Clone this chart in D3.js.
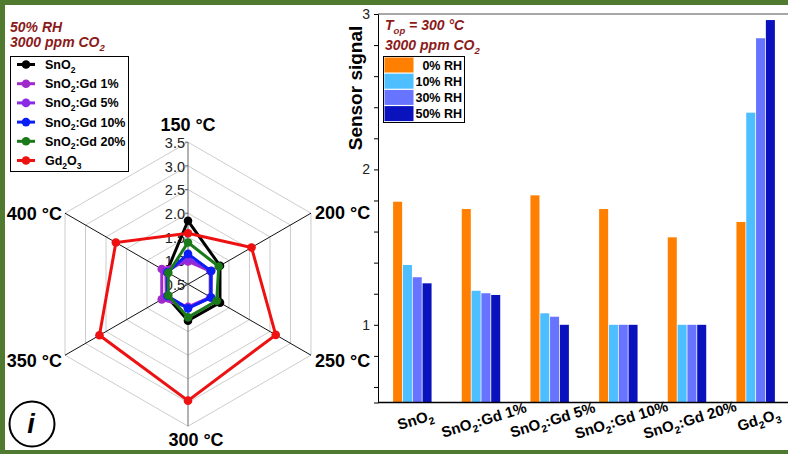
<!DOCTYPE html>
<html>
<head>
<meta charset="utf-8">
<script src="https://cdn.jsdelivr.net/npm/d3@7"></script>
<style>
  html, body { margin: 0; padding: 0; background: #fff; }
  svg { display: block; }
  text { font-family: "Liberation Sans", Arial, Helvetica, sans-serif; }
</style>
</head>
<body>
<svg id="chart" width="788" height="454"></svg>
<script>
// ---------- radar data: sensor signal at 50% RH, 3000 ppm CO2 ----------
const temperatures = ["150 °C", "200 °C", "250 °C", "300 °C", "350 °C", "400 °C"];
const radarNames = ["SnO{2}", "SnO{2}:Gd 1%", "SnO{2}:Gd 5%", "SnO{2}:Gd 10%", "SnO{2}:Gd 20%", "Gd{2}O{3}"];
const radarColors = ["#000000", "#A02ACB", "#8A2BE6", "#0A1EF5", "#1A7A1A", "#EE1111"];
const radarSnO2  = [1.84, 1.28, 1.28, 1.27, 1.02, 1.02];
const radarGd1   = [0.98, 1.05, 1.05, 0.98, 1.14, 1.14];
const radarGd5   = [1.04, 1.07, 1.06, 1.00, 1.03, 1.04];
const radarGd10  = [1.14, 1.06, 1.06, 1.01, 1.00, 1.00];
const radarGd20  = [1.38, 1.25, 1.20, 1.20, 0.98, 0.98];
const radarGd2O3 = [1.575, 2.05, 2.64, 2.96, 2.66, 2.26];
const radarTicks = [0.5, 1.0, 1.5, 2.0, 2.5, 3.0, 3.5];

// ---------- bar data: sensor signal at 300 °C for several humidity levels ----------
const barCategories = ["SnO{2}", "SnO{2}:Gd 1%", "SnO{2}:Gd 5%", "SnO{2}:Gd 10%", "SnO{2}:Gd 20%", "Gd{2}O{3}"];
const humidityLevels = ["0% RH", "10% RH", "30% RH", "50% RH"];
const humidityColors = ["#FF8000", "#4DBEFF", "#6674FF", "#0A12BE"];
const rh0  = [1.792, 1.745, 1.833, 1.745, 1.563, 1.662];
const rh10 = [1.385, 1.219, 1.074, 1.0, 1.0, 2.365];
const rh30 = [1.306, 1.203, 1.052, 1.0, 1.0, 2.844];
const rh50 = [1.267, 1.192, 1.0, 1.0, 1.0, 2.961];
const barMajorTicks = [1, 2, 3];
const barMinorTicks = [0.6, 0.8, 1.2, 1.4, 1.6, 1.8, 2.2, 2.4, 2.6, 2.8];

const svg = d3.select("#chart");
const titleColor = "#8B1A1A";

// text with {subscript} parts rendered as lowered, smaller tspans
function richText(sel, str, fs) {
  const parts = str.split(/(\{[^}]*\})/);
  const shift = fs * 0.28;
  let lowered = false;
  parts.forEach(p => {
    if (!p) return;
    if (p.startsWith("{")) {
      sel.append("tspan").attr("font-size", fs * 0.68)
        .attr("dy", lowered ? 0 : shift).text(p.slice(1, -1));
      lowered = true;
    } else {
      const t = sel.append("tspan").text(p);
      if (lowered) { t.attr("dy", -shift); lowered = false; }
    }
  });
  return sel;
}

// ---------- frame ----------
svg.append("rect").attr("width", 788).attr("height", 454).attr("fill", "#4F7A30");
svg.append("rect").attr("x", 5).attr("y", 5).attr("width", 783).attr("height", 445).attr("fill", "#fff");

// ---------- radar chart ----------
const cx = 188, cy = 284.2, R = 142;
const rScale = d3.scaleLinear().domain([0.5, 3.5]).range([0, R]);
const ang = i => i * Math.PI / 3;
const pt = (i, r) => [cx + r * Math.sin(ang(i)), cy - r * Math.cos(ang(i))];

const radar = svg.append("g");
// rings
radarTicks.slice(1).forEach(t => {
  const pts = temperatures.map((_, i) => pt(i, rScale(t)));
  radar.append("polygon").attr("points", pts.map(p => p.join(",")).join(" "))
    .attr("fill", "none").attr("stroke", "#cdcdcd").attr("stroke-width", 1);
});
// spokes
temperatures.forEach((_, i) => {
  const [x, y] = pt(i, R);
  radar.append("line").attr("x1", cx).attr("y1", cy).attr("x2", x).attr("y2", y)
    .attr("stroke", (i === 0 || i === 3) ? "#666" : "#111").attr("stroke-width", 1);
});
// radial tick labels along the top spoke
radarTicks.forEach(t => {
  const y = cy - rScale(t);
  radar.append("line").attr("x1", cx - 3).attr("x2", cx).attr("y1", y).attr("y2", y)
    .attr("stroke", "#666").attr("stroke-width", 1);
  radar.append("text").attr("x", cx - 3).attr("y", y + 2)
    .attr("text-anchor", "end").attr("dominant-baseline", "middle")
    .attr("font-size", 14.5).attr("fill", "#222").text(t.toFixed(1));
});
// axis labels at the spoke ends
const axisLabelPlacement = [
  { dx: 0, dy: -18, anchor: "middle" },
  { dx: 4, dy: -1, anchor: "start" },
  { dx: 4, dy: 5, anchor: "start" },
  { dx: 8, dy: 13, anchor: "middle" },
  { dx: -3, dy: 5, anchor: "end" },
  { dx: -3, dy: 0, anchor: "end" }
];
temperatures.forEach((t, i) => {
  const [x, y] = pt(i, R);
  const pl = axisLabelPlacement[i];
  radar.append("text").attr("x", x + pl.dx).attr("y", y + pl.dy + 6.5)
    .attr("text-anchor", pl.anchor).attr("font-size", 18).attr("font-weight", "bold")
    .attr("fill", "#000").text(t);
});
// series polygons and markers
const radarValues = [radarSnO2, radarGd1, radarGd5, radarGd10, radarGd20, radarGd2O3];
const radialLine = d3.lineRadial().angle((d, i) => ang(i)).radius(d => rScale(d))
  .curve(d3.curveLinearClosed);
radarValues.forEach((vals, s) => {
  const g = radar.append("g").attr("transform", `translate(${cx},${cy})`);
  g.append("path").attr("d", radialLine(vals)).attr("fill", "none")
    .attr("stroke", radarColors[s]).attr("stroke-width", 3).attr("stroke-linejoin", "miter");
  vals.forEach((v, i) => {
    const r = rScale(v);
    g.append("circle").attr("cx", r * Math.sin(ang(i))).attr("cy", -r * Math.cos(ang(i)))
      .attr("r", 4.3).attr("fill", radarColors[s]);
  });
});

// radar titles and legend
const lt = svg.append("g").attr("font-weight", "bold").attr("font-style", "italic")
  .attr("font-size", 14).attr("fill", titleColor);
richText(lt.append("text").attr("x", 10).attr("y", 32), "50% RH", 14);
richText(lt.append("text").attr("x", 10).attr("y", 47), "3000 ppm CO{2}", 14);

const leg = svg.append("g");
leg.append("rect").attr("x", 10.5).attr("y", 56.5).attr("width", 118).attr("height", 115)
  .attr("fill", "#fff").attr("stroke", "#000").attr("stroke-width", 1);
radarNames.forEach((n, i) => {
  const yc = 64.5 + i * 19.2;
  leg.append("line").attr("x1", 17).attr("x2", 35).attr("y1", yc).attr("y2", yc)
    .attr("stroke", radarColors[i]).attr("stroke-width", 3);
  leg.append("circle").attr("cx", 26).attr("cy", yc).attr("r", 4.3).attr("fill", radarColors[i]);
  richText(leg.append("text").attr("x", 45).attr("y", yc + 4.5)
    .attr("font-size", 12.5).attr("font-weight", "bold").attr("fill", "#000"), n, 12.5);
});

// "i" panel badge
svg.append("circle").attr("cx", 32).attr("cy", 424).attr("r", 22.5)
  .attr("fill", "#fff").attr("stroke", "#000").attr("stroke-width", 2);
svg.append("text").attr("x", 31).attr("y", 433).attr("text-anchor", "middle")
  .attr("font-size", 27).attr("font-weight", "bold").attr("font-style", "italic").text("i");

// ---------- bar chart ----------
const x0 = d3.scaleBand().domain(barCategories).range([378, 790])
  .paddingInner(0.44).paddingOuter(0.22);
const x1 = d3.scaleBand().domain(humidityLevels).range([0, x0.bandwidth()]).paddingInner(0.08);
const y = d3.scaleLinear().domain([0.5, 3]).range([402.5, 14]);
const barValues = [rh0, rh10, rh30, rh50];

const bars = svg.append("g");
barCategories.forEach((c, ci) => {
  humidityLevels.forEach((h, hi) => {
    const v = barValues[hi][ci];
    bars.append("rect").attr("x", x0(c) + x1(h)).attr("width", x1.bandwidth())
      .attr("y", y(v)).attr("height", y(0.5) - y(v)).attr("fill", humidityColors[hi]);
  });
});

// frame lines
svg.append("line").attr("x1", 378).attr("x2", 788).attr("y1", y(3)).attr("y2", y(3))
  .attr("stroke", "#8a8a8a").attr("stroke-width", 1.5);
svg.append("line").attr("x1", 378).attr("x2", 788).attr("y1", y(0.5)).attr("y2", y(0.5))
  .attr("stroke", "#000").attr("stroke-width", 1.5);

// y axis
const yAxis = svg.append("g").attr("transform", "translate(378,0)")
  .call(d3.axisLeft(y).tickValues(barMajorTicks).tickSize(4).tickPadding(4).tickFormat(d3.format("d")));
yAxis.select(".domain").attr("stroke", "#000").attr("stroke-width", 1);
yAxis.selectAll(".tick text").attr("font-size", 14).attr("fill", "#222")
  .attr("font-family", "Liberation Sans, Arial, sans-serif");
const yMinor = svg.append("g").attr("transform", "translate(378,0)")
  .call(d3.axisLeft(y).tickValues(barMinorTicks).tickSize(4).tickFormat(""));
yMinor.select(".domain").remove();

svg.append("text").attr("transform", "translate(357,88) rotate(-90)")
  .attr("text-anchor", "middle").attr("dominant-baseline", "middle")
  .attr("font-size", 19).attr("font-weight", "bold").text("Sensor signal");

// category labels
barCategories.forEach(c => {
  const xc = x0(c) + x0.bandwidth() / 2 + 3;
  const yc = 420;
  richText(svg.append("text").attr("transform", `translate(${xc},${yc}) rotate(-17)`)
    .attr("x", 0).attr("y", 5).attr("text-anchor", "middle")
    .attr("font-size", 15).attr("font-weight", "bold").attr("fill", "#000"), c, 15);
});

// bar titles and legend
const bt = svg.append("g").attr("font-weight", "bold").attr("font-style", "italic")
  .attr("font-size", 14).attr("fill", titleColor);
richText(bt.append("text").attr("x", 385).attr("y", 30), "T{op} = 300 °C", 14);
richText(bt.append("text").attr("x", 385).attr("y", 50), "3000 ppm CO{2}", 14);

const bleg = svg.append("g");
bleg.append("rect").attr("x", 383.5).attr("y", 56.5).attr("width", 81).attr("height", 66)
  .attr("fill", "#fff").attr("stroke", "#000").attr("stroke-width", 1);
humidityLevels.forEach((h, i) => {
  const top = 57.5 + i * 16.2;
  bleg.append("rect").attr("x", 384.5).attr("y", top).attr("width", 29).attr("height", 15)
    .attr("fill", humidityColors[i]);
  bleg.append("text").attr("x", 462).attr("y", top + 12).attr("text-anchor", "end")
    .attr("font-size", 12.5).attr("font-weight", "bold").attr("fill", "#000").text(h);
});
</script>
</body>
</html>
